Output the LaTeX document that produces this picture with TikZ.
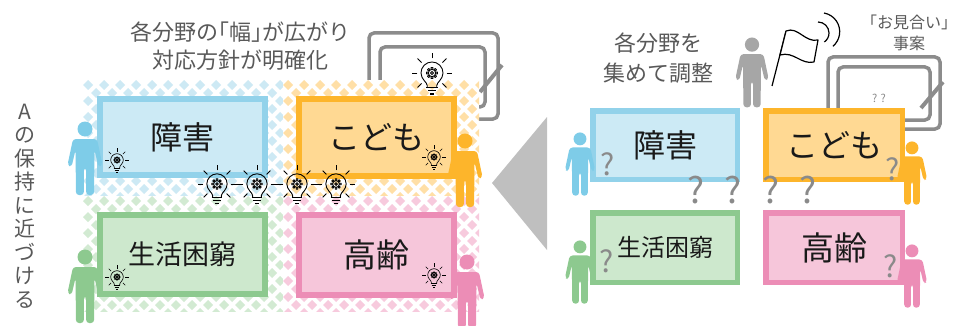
\documentclass[tikz,border=0pt]{standalone}
\usepackage{fontspec}
\setmainfont{Noto Sans CJK JP}
\usetikzlibrary{calc}

\definecolor{bluebd}{HTML}{92D2EA}
\definecolor{bluefill}{HTML}{CCEAF5}
\definecolor{bluepat}{HTML}{CDE9F4}
\definecolor{bluefig}{HTML}{7ECCE8}
\definecolor{orangebd}{HTML}{FDB52B}
\definecolor{orangefill}{HTML}{FFD993}
\definecolor{orangepat}{HTML}{FFDFA6}
\definecolor{greenbd}{HTML}{8DC98F}
\definecolor{greenfill}{HTML}{CDE8CD}
\definecolor{greenpat}{HTML}{D2EAD2}
\definecolor{pinkbd}{HTML}{EC8DB6}
\definecolor{pinkfill}{HTML}{F6C6DA}
\definecolor{pinkpat}{HTML}{F7CADD}
\definecolor{textgray}{HTML}{595959}
\definecolor{qgray}{HTML}{8A8A8A}
\definecolor{boardgray}{HTML}{8C8C8C}
\definecolor{trigray}{HTML}{BFBFBF}
\definecolor{persongray}{HTML}{A6A6A6}

% diamond lattice filling a rectangle: x0 y0 x1 y1 colour
\newcommand{\dotfield}[5]{%
  \begin{scope}
    \clip (#1,#2) rectangle (#3,#4);
    \fill[white] (#1,#2) rectangle (#3,#4);
    \foreach \j in {0,...,15}{
      \foreach \i in {0,...,13}{
        \pgfmathsetmacro{\dx}{#1+5+16*\i+8*mod(\j,2)}
        \pgfmathsetmacro{\dy}{#2+5+8*\j}
        \fill[#5] (\dx,\dy) ++(-5,0) -- ++(5,-5) -- ++(5,5) -- ++(-5,5) -- cycle;
      }
    }
  \end{scope}}

\tikzset{
  lbox/.style={draw, line width=6pt, inner sep=0pt, text=black!90},
  rbox/.style={draw, line width=5.5pt, inner sep=0pt, text=black!90},
  caption/.style={text=textgray, align=center, inner sep=0pt},
  qmark/.style={text=qgray, inner sep=0pt},
  board/.style={draw=boardgray, line width=3.5pt, rounded corners=5pt},
  pen/.style={draw=boardgray, line width=4pt},
  % standing figure, origin at the top of the head
  person/.pic={
    \fill (0,8) circle (7.5);
    \fill[rounded corners=3pt] (-12,18) -- (12,18) -- (17.5,44) -- (13.5,46) -- (9.5,29)
      -- (9,74) -- (1.2,74) -- (1.2,47) -- (-1.2,47) -- (-1.2,74) -- (-9,74)
      -- (-9.5,29) -- (-13.5,46) -- (-17.5,44) -- cycle;
  },
  % light bulb with a gear, origin at the centre of the glass
  bulb/.pic={
    \draw (-4.5,14) -- (-4.5,12) .. controls (-4.5,9) and (-10.5,6) .. (-10.5,0)
      arc[start angle=180, end angle=360, radius=10.5]
      .. controls (10.5,6) and (4.5,9) .. (4.5,12) -- (4.5,14);
    \draw (-5.5,14) -- (5.5,14);
    \draw (-4,17) -- (4,17);
    \fill (-2.2,19.5) rectangle (2.2,21);
    \draw (0,0) circle (3.5);
    \draw (0,0) circle (1.4);
    \foreach \a in {0,45,...,315}{
      \draw[line join=round] (\a-13:3.5) -- (\a-9:5.3) -- (\a+9:5.3) -- (\a+13:3.5);
    }
    \foreach \a in {0,45,135,180,225,270,315}{ \draw (\a:14) -- (\a:19.5); }
  },
}

\begin{document}
\begin{tikzpicture}[x=1pt, y=-1pt]
\useasboundingbox (0,0) rectangle (957,326);

% ---------- left half ----------
\node[caption, font=\fontsize{22}{28}\selectfont] (titleL) at (240,46)
  {各分野の\kern-0.5em「幅」\kern-0.5em が広がり\\対応方針が明確化};
\node[caption, font=\fontsize{21}{23.5}\selectfont] (vtext) at (25,206)
  {A\\の\\保\\持\\に\\近\\づ\\け\\る};

% whiteboard behind the fields
\draw[board] (369,33) rectangle (498,119);
\draw[board] (380,47) rectangle (485,107);
\draw[pen] (502,65) -- (480,92);

% patterned fields
\dotfield{83}{80}{283}{196}{bluepat}
\dotfield{283}{80}{479}{196}{orangepat}
\dotfield{83}{196}{283}{311}{greenpat}
\dotfield{283}{196}{479}{311}{pinkpat}

% field boxes
\node[lbox, draw=bluebd, fill=bluefill, minimum width=165pt, minimum height=76pt,
  font=\fontsize{32}{32}\selectfont] (lShogai) at (182.5,137) {障害};
\node[lbox, draw=orangebd, fill=orangefill, minimum width=155pt, minimum height=77pt,
  font=\fontsize{32}{32}\selectfont] (lKodomo) at (376.5,137.5) {こども};
\node[lbox, draw=greenbd, fill=greenfill, minimum width=165pt, minimum height=79pt,
  font=\fontsize{27}{27}\selectfont] (lKonkyu) at (182.5,254.5) {生活困窮};
\node[lbox, draw=pinkbd, fill=pinkfill, minimum width=155pt, minimum height=80pt,
  font=\fontsize{33}{33}\selectfont] (lKorei) at (376.5,255) {高齢};

% people
\pic[color=bluefig] at (85,121) {person};
\pic[color=orangebd] at (465,133) {person};
\pic[color=greenbd] at (85,249) {person};
\pic[color=pinkbd] at (467,254) {person};

% bulbs
\pic[scale=0.6, line width=0.6pt] at (117,160) {bulb};
\pic[scale=0.6, line width=0.6pt] at (434,157) {bulb};
\pic[scale=0.6, line width=0.6pt] at (117,277) {bulb};
\pic[scale=0.6, line width=0.6pt] at (434,275) {bulb};
\pic[scale=1.05, line width=0.9pt] at (432,73) {bulb};

\coordinate (bulbA) at (217,184);
\coordinate (bulbB) at (257,184);
\coordinate (bulbC) at (297,184);
\coordinate (bulbD) at (336,184);
\foreach \b in {bulbA,bulbB,bulbC,bulbD}{ \pic[scale=0.97, line width=0.9pt] at (\b) {bulb}; }
\draw[line width=0.9pt, shorten <=18.5pt, shorten >=18.5pt] (bulbA) -- (bulbB);
\draw[line width=0.9pt, shorten <=18.5pt, shorten >=18.5pt] (bulbB) -- (bulbC);
\draw[line width=0.9pt, shorten <=17.5pt, shorten >=17.5pt] (bulbC) -- (bulbD);

% ---------- arrow between the halves ----------
\fill[trigray] (492,183) -- (547,117) -- (547,250) -- cycle;

% ---------- right half ----------
\node[caption, font=\fontsize{22}{30}\selectfont] (titleR) at (658,58) {各分野を\\集めて調整};
\node[caption, font=\fontsize{16}{21}\selectfont] (omiai) at (909,33)
  {「お見合い」\\事案};

% coordinator with a flag
\pic[color=persongray, scale=0.95] at (752,37) {person};
\draw[line width=1.2pt] (772,86) -- (786,31);
\filldraw[fill=white, line width=1.2pt, line join=round]
  (786,31) .. controls (798,26) and (805,43) .. (818,40) -- (814,62)
  .. controls (801,65) and (794,51) .. (780,55) -- cycle;
\draw[line width=1.2pt] (818,22) arc[start angle=-90, end angle=55, radius=11];
\draw[line width=1.2pt] (824,13) arc[start angle=-80, end angle=50, radius=19];

% whiteboard
\draw[board] (828,57) rectangle (940,129);
\draw[board] (838,67) rectangle (930,120);
\draw[pen] (943,82) -- (921,108);
\node[qmark, font=\fontsize{11}{11}\selectfont] (boardq) at (879,98) {? ?};

% boxes
\node[rbox, draw=bluebd, fill=bluefill, minimum width=144.5pt, minimum height=68.5pt,
  font=\fontsize{32}{32}\selectfont] (rShogai) at (665,145) {障害};
\node[rbox, draw=orangebd, fill=orangefill, minimum width=136.5pt, minimum height=68.5pt,
  font=\fontsize{32}{32}\selectfont] (rKodomo) at (834,145) {こども};
\node[rbox, draw=greenbd, fill=greenfill, minimum width=144.5pt, minimum height=69.5pt,
  font=\fontsize{24}{24}\selectfont] (rKonkyu) at (665,247.5) {生活困窮};
\node[rbox, draw=pinkbd, fill=pinkfill, minimum width=136.5pt, minimum height=69.5pt,
  font=\fontsize{33}{33}\selectfont] (rKorei) at (834,247.5) {高齢};

% people
\pic[color=bluefig, scale=0.86] at (580,132) {person};
\pic[color=orangebd, scale=0.86] at (912,141) {person};
\pic[color=greenbd, scale=0.86] at (580,240) {person};
\pic[color=pinkbd, scale=0.86] at (912,244) {person};

% question marks
\node[qmark, font=\fontsize{30}{30}\selectfont] (q1) at (608,164) {?};
\node[qmark, font=\fontsize{30}{30}\selectfont] (q2) at (893,169) {?};
\node[qmark, font=\fontsize{30}{30}\selectfont] (q3) at (607,261) {?};
\node[qmark, font=\fontsize{30}{30}\selectfont] (q4) at (891,266) {?};
\node[qmark, font=\fontsize{36}{36}\selectfont] (q5) at (696,190) {?};
\node[qmark, font=\fontsize{36}{36}\selectfont] (q6) at (733,190) {?};
\node[qmark, font=\fontsize{36}{36}\selectfont] (q7) at (771,190) {?};
\node[qmark, font=\fontsize{36}{36}\selectfont] (q8) at (808,190) {?};
\end{tikzpicture}
\end{document}
